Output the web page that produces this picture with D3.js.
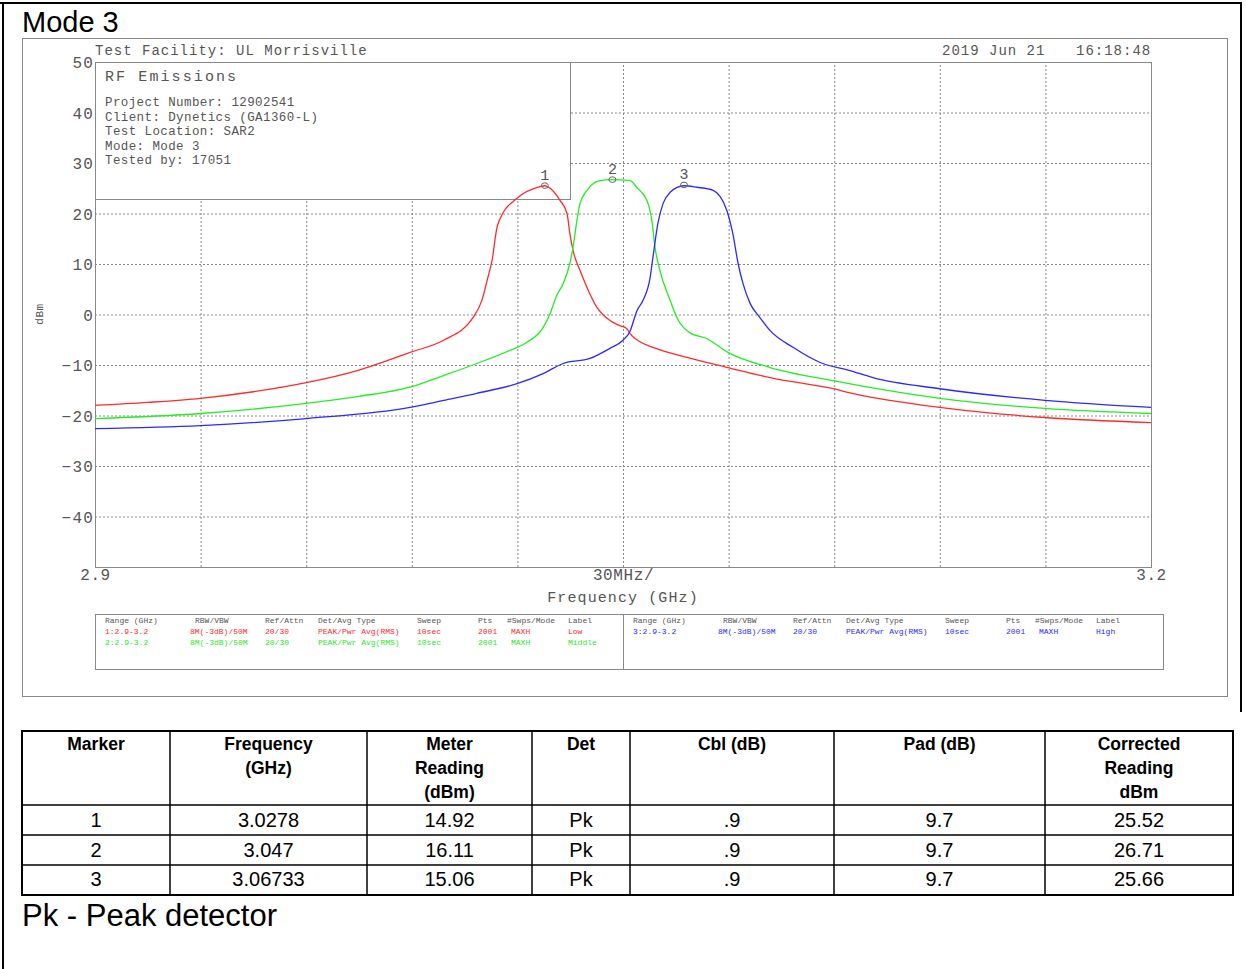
<!DOCTYPE html>
<html>
<head>
  <meta charset="utf-8">
  <title>Mode 3 - RF Emissions</title>
  <script src="https://cdn.jsdelivr.net/npm/d3@7"></script>
  <style>
  body { margin: 0; background: #fff; }
  .hp { font-family: "Liberation Mono", "DejaVu Sans Mono", monospace; fill: #555; }
  .grid line { stroke: #888; stroke-dasharray: 2,2; }
  .grid path { display: none; }
  .doc { font-family: "Liberation Sans", Arial, sans-serif; fill: #000; }
  </style>
</head>
<body>
  <div id="chart"></div>
  <script>
  // ---- data ----
  // [frequency GHz, dBm]
  var lowTrace = [
    [2.900,-18.0],[2.915,-17.4],[2.930,-16.6],[2.945,-15.3],[2.960,-13.5],[2.975,-11.0],
    [2.9895,-7.5],[2.999,-5.1],[3.0074,-0.6],[3.0099,2.8],[3.0116,7.3],[3.0128,10.7],
    [3.0142,17.2],[3.0151,19.0],[3.0199,23.0],[3.0264,25.3],[3.0278,25.5],[3.0293,25.0],
    [3.0321,22.6],[3.0341,20.0],[3.0349,16.0],[3.0358,12.7],[3.0378,8.7],[3.0398,5.3],
    [3.0426,1.4],[3.0463,-1.2],[3.0491,-2.2],[3.0511,-2.8],[3.0520,-3.8],[3.0548,-5.4],
    [3.0585,-6.5],[3.0682,-8.5],[3.0798,-10.5],[3.0918,-12.5],[3.1097,-14.7],[3.1145,-15.5],
    [3.1400,-18.4],[3.1699,-20.4],[3.2000,-21.4]
  ];
  var middleTrace = [
    [2.900,-20.6],[2.930,-19.6],[2.960,-17.6],[2.975,-16.2],[2.9895,-14.4],[2.999,-12.1],
    [3.0085,-9.7],[3.0179,-7.1],[3.0227,-5.5],[3.0273,-2.6],[3.0293,0.2],[3.0312,3.8],
    [3.0330,6.1],[3.0349,10.1],[3.0358,13.3],[3.0369,18.6],[3.0378,22.0],[3.0398,24.6],
    [3.0435,26.5],[3.0470,26.7],[3.0520,26.5],[3.0540,25.1],[3.0568,22.6],[3.0582,18.6],
    [3.0591,13.3],[3.0605,8.7],[3.0634,2.8],[3.0653,-0.6],[3.0690,-3.6],[3.0739,-4.8],
    [3.0798,-7.5],[3.0918,-10.5],[3.1097,-13.1],[3.1400,-16.6],[3.1699,-18.6],[3.2000,-19.6]
  ];
  var highTrace = [
    [2.900,-22.6],[2.930,-22.0],[2.960,-20.6],[2.9895,-18.4],[2.999,-17.0],[3.0085,-15.6],
    [3.0199,-13.7],[3.0273,-11.7],[3.0330,-9.7],[3.0406,-8.7],[3.0463,-6.7],[3.0500,-5.1],
    [3.0520,-3.3],[3.0540,0.8],[3.0557,2.8],[3.0577,7.3],[3.0585,11.3],[3.0599,18.0],
    [3.0614,22.0],[3.0634,24.2],[3.0673,25.5],[3.0710,25.2],[3.0756,24.6],[3.0795,20.6],
    [3.0812,16.0],[3.0827,10.1],[3.0841,6.1],[3.0861,2.2],[3.0889,-0.6],[3.0918,-3.2],
    [3.0983,-6.5],[3.1060,-9.5],[3.1145,-11.1],[3.1210,-12.5],[3.1400,-14.7],[3.1699,-17.0],
    [3.2000,-18.4]
  ];
  var traceNames = ["Low", "Middle", "High"];
  var traceColors = ["#ff2a2a", "#22ee22", "#2a2aff"];

  var yTicks = [50, 40, 30, 20, 10, 0, -10, -20, -30, -40];
  var xTickValues = [2.9, 3.05, 3.2];
  var xTickLabels = ["2.9", "30MHz/", "3.2"];

  var markerIds = ["1", "2", "3"];
  var markerFreqs = [3.0278, 3.047, 3.06733];
  var meterReadings = ["14.92", "16.11", "15.06"];
  var detectors = ["Pk", "Pk", "Pk"];
  var cableLoss = [".9", ".9", ".9"];
  var padLoss = ["9.7", "9.7", "9.7"];
  var correctedReadings = [25.52, 26.71, 25.66];

  var infoLines = ["Project Number: 12902541", "Client: Dynetics (GA1360-L)",
    "Test Location: SAR2", "Mode: Mode 3", "Tested by: 17051"];

  var settingHeaders = ["Range (GHz)", "RBW/VBW", "Ref/Attn", "Det/Avg Type", "Sweep", "Pts", "#Swps/Mode", "Label"];
  var settingRows = [
    ["1:2.9-3.2", "8M(-3dB)/50M", "20/30", "PEAK/Pwr Avg(RMS)", "10sec", "2001", "MAXH", "Low"],
    ["2:2.9-3.2", "8M(-3dB)/50M", "20/30", "PEAK/Pwr Avg(RMS)", "10sec", "2001", "MAXH", "Middle"],
    ["3:2.9-3.2", "8M(-3dB)/50M", "20/30", "PEAK/Pwr Avg(RMS)", "10sec", "2001", "MAXH", "High"]
  ];

  var tableHeaders = [["Marker"], ["Frequency", "(GHz)"], ["Meter", "Reading", "(dBm)"], ["Det"],
    ["Cbl (dB)"], ["Pad (dB)"], ["Corrected", "Reading", "dBm"]];

  // ---- layout ----
  var W = 1246, H = 969;
  var plotL = 95, plotR = 1151, plotT = 62, plotB = 567;

  var svg = d3.select("#chart").append("svg")
    .attr("width", W).attr("height", H);

  // page borders
  svg.append("line").attr("x1", 0).attr("x2", 1242).attr("y1", 3).attr("y2", 3)
    .attr("stroke", "#000").attr("stroke-width", 2);
  svg.append("line").attr("x1", 3).attr("x2", 3).attr("y1", 2).attr("y2", H)
    .attr("stroke", "#000").attr("stroke-width", 2);
  svg.append("line").attr("x1", 1241).attr("x2", 1241).attr("y1", 2).attr("y2", 712)
    .attr("stroke", "#000").attr("stroke-width", 2);

  svg.append("text").attr("class", "doc")
    .attr("x", 22).attr("y", 32).attr("font-size", 29).text("Mode 3");

  // analyzer plot frame
  svg.append("rect").attr("x", 22.5).attr("y", 38.5).attr("width", 1205).attr("height", 658)
    .attr("fill", "none").attr("stroke", "#888");

  var x = d3.scaleLinear().domain([2.9, 3.2]).range([plotL, plotR]);
  var y = d3.scaleLinear().domain([-50, 50]).range([plotB, plotT]);

  // grid
  svg.append("g").attr("class", "grid")
    .attr("transform", "translate(0," + plotB + ")")
    .call(d3.axisBottom(x).tickValues(d3.range(1, 10).map(function(i) { return 2.9 + i * 0.03; }))
      .tickSize(-(plotB - plotT)).tickFormat(""));
  svg.append("g").attr("class", "grid")
    .attr("transform", "translate(" + plotL + ",0)")
    .call(d3.axisLeft(y).tickValues(yTicks.slice(1)).tickSize(-(plotR - plotL)).tickFormat(""));

  svg.append("rect").attr("x", plotL + 0.5).attr("y", plotT + 0.5)
    .attr("width", plotR - plotL).attr("height", plotB - plotT)
    .attr("fill", "none").attr("stroke", "#888");

  // y tick labels
  var yAxis = svg.append("g")
    .attr("transform", "translate(" + (plotL - 1) + ",0)")
    .call(d3.axisLeft(y).tickValues(yTicks).tickSize(0).tickPadding(0));
  yAxis.select(".domain").remove();
  yAxis.selectAll("text").attr("class", "hp")
    .attr("font-size", 16).attr("letter-spacing", 1.2).attr("dy", "0.36em");

  // x tick labels
  var xAxis = svg.append("g")
    .attr("transform", "translate(0," + plotB + ")")
    .call(d3.axisBottom(x).tickValues(xTickValues).tickSize(0).tickPadding(2)
      .tickFormat(function(d, i) { return xTickLabels[i]; }));
  xAxis.select(".domain").remove();
  xAxis.selectAll("text").attr("class", "hp").attr("font-size", 16).attr("letter-spacing", 0.6);

  svg.append("text").attr("class", "hp")
    .attr("x", 623).attr("y", 602).attr("text-anchor", "middle")
    .attr("font-size", 15).attr("letter-spacing", 1.1).text("Frequency (GHz)");

  svg.append("text").attr("class", "hp")
    .attr("transform", "translate(43,314) rotate(-90)")
    .attr("text-anchor", "middle").attr("font-size", 11).attr("letter-spacing", 0.6).text("dBm");

  // header texts
  svg.append("text").attr("class", "hp")
    .attr("x", 95).attr("y", 55).attr("font-size", 14).attr("letter-spacing", 1.0)
    .text("Test Facility: UL Morrisville");
  svg.append("text").attr("class", "hp")
    .attr("x", 942).attr("y", 55).attr("font-size", 14).attr("letter-spacing", 1.0)
    .text("2019 Jun 21");
  svg.append("text").attr("class", "hp")
    .attr("x", 1076).attr("y", 55).attr("font-size", 14).attr("letter-spacing", 1.0)
    .text("16:18:48");

  // info box (covers grid)
  svg.append("rect").attr("x", plotL + 0.5).attr("y", plotT + 0.5)
    .attr("width", 475).attr("height", 137)
    .attr("fill", "#fff").attr("stroke", "#888");
  svg.append("text").attr("class", "hp")
    .attr("x", 105).attr("y", 81).attr("font-size", 15).attr("letter-spacing", 2.1)
    .text("RF Emissions");
  svg.append("g").selectAll("text")
    .data(infoLines)
    .enter().append("text").attr("class", "hp")
    .attr("x", 105).attr("y", function(d, i) { return 106 + i * 14.6; })
    .attr("font-size", 12.5).attr("letter-spacing", 0.4)
    .text(function(d) { return d; });

  // traces
  var line = d3.line()
    .x(function(d) { return x(d[0]); })
    .y(function(d) { return y(d[1]); })
    .curve(d3.curveMonotoneX);

  svg.append("g").selectAll("path")
    .data([lowTrace, middleTrace, highTrace])
    .enter().append("path")
    .attr("d", line)
    .attr("fill", "none")
    .attr("stroke", function(d, i) { return traceColors[i]; })
    .attr("stroke-width", 1.3);

  // markers
  var mk = svg.append("g").selectAll("g")
    .data(markerIds)
    .enter().append("g")
    .attr("transform", function(d, i) {
      return "translate(" + x(markerFreqs[i]) + "," + y(correctedReadings[i]) + ")";
    });
  mk.append("ellipse").attr("rx", 3.5).attr("ry", 2.8)
    .attr("fill", "none").attr("stroke", "#666").attr("stroke-width", 1);
  mk.append("text").attr("class", "hp")
    .attr("y", -6).attr("text-anchor", "middle").attr("font-size", 15)
    .text(function(d) { return d; });

  // settings table
  svg.append("rect").attr("x", 95.5).attr("y", 614.5).attr("width", 1068).attr("height", 55)
    .attr("fill", "none").attr("stroke", "#888");
  svg.append("line").attr("x1", 623.5).attr("x2", 623.5).attr("y1", 614).attr("y2", 669)
    .attr("stroke", "#888");

  var colX = [0, 90, 160, 213, 312, 373, 402, 463];
  var blockX = [105, 633];
  blockX.forEach(function(bx, b) {
    svg.append("g").selectAll("text")
      .data(settingHeaders)
      .enter().append("text").attr("class", "hp")
      .attr("x", function(d, i) { return bx + colX[i]; })
      .attr("y", 623).attr("font-size", 8)
      .text(function(d) { return d; });
  });
  settingRows.forEach(function(row, r) {
    var bx = r < 2 ? blockX[0] : blockX[1];
    var ry = r < 2 ? 634 + r * 10.5 : 634;
    svg.append("g").selectAll("text")
      .data(row)
      .enter().append("text").attr("class", "hp")
      .attr("x", function(d, i) { return bx + colX[i] + (i == 6 ? 4 : 0) - (i == 1 ? 5 : 0); })
      .attr("y", ry).attr("font-size", 8)
      .style("fill", traceColors[r])
      .text(function(d) { return d; });
  });

  // marker table
  var colEdges = [22, 170, 367, 532, 630, 834, 1045, 1233];
  var rowEdges = [731, 805, 835, 865, 895];
  var tbl = svg.append("g");
  tbl.append("rect").attr("x", 22).attr("y", 731).attr("width", 1211).attr("height", 164)
    .attr("fill", "none").attr("stroke", "#000").attr("stroke-width", 2);
  tbl.selectAll("line.v")
    .data(colEdges.slice(1, -1))
    .enter().append("line")
    .attr("x1", function(d) { return d; }).attr("x2", function(d) { return d; })
    .attr("y1", 731).attr("y2", 895).attr("stroke", "#000").attr("stroke-width", 1.5);
  tbl.selectAll("line.h")
    .data(rowEdges.slice(1, -1))
    .enter().append("line")
    .attr("x1", 22).attr("x2", 1233)
    .attr("y1", function(d) { return d; }).attr("y2", function(d) { return d; })
    .attr("stroke", "#000").attr("stroke-width", 1.5);

  var colMid = function(i) { return (colEdges[i] + colEdges[i + 1]) / 2; };
  tableHeaders.forEach(function(lines, c) {
    tbl.append("g").selectAll("text")
      .data(lines)
      .enter().append("text").attr("class", "doc")
      .attr("x", colMid(c)).attr("y", function(d, i) { return 750 + i * 24; })
      .attr("text-anchor", "middle").attr("font-size", 17.5).attr("font-weight", "bold")
      .text(function(d) { return d; });
  });
  markerIds.forEach(function(id, r) {
    var cells = [id, markerFreqs[r], meterReadings[r], detectors[r], cableLoss[r], padLoss[r],
      correctedReadings[r].toFixed(2)];
    tbl.append("g").selectAll("text")
      .data(cells)
      .enter().append("text").attr("class", "doc")
      .attr("x", function(d, i) { return colMid(i); })
      .attr("y", 827 + r * 29.5)
      .attr("text-anchor", "middle").attr("font-size", 20)
      .text(function(d) { return d; });
  });

  svg.append("text").attr("class", "doc")
    .attr("x", 22).attr("y", 926).attr("font-size", 31).text("Pk - Peak detector");
  </script>
</body>
</html>
